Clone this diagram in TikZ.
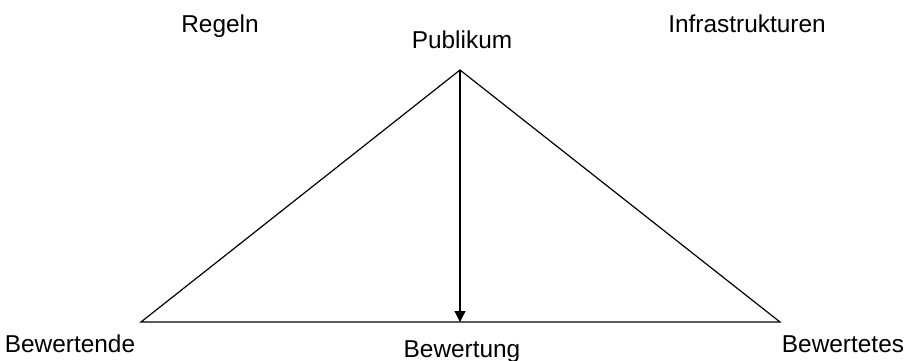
\documentclass[tikz,border=0pt]{standalone}
\usepackage{fontspec}
\setmainfont{Liberation Sans}
\usetikzlibrary{arrows.meta}
\tikzset{
  lbl/.style={anchor=base, inner sep=0pt, font=\fontsize{12.2}{14}\selectfont},
  edge/.style={line width=0.6pt},
}
\begin{document}
\begin{tikzpicture}[x=0.5pt,y=-0.5pt]
\useasboundingbox (0,0) rectangle (912,360);
% triangle corners
\coordinate (apex) at (460,70);
\coordinate (bl) at (141,322);
\coordinate (br) at (780,322);
\coordinate (mid) at (460,322);
% labels
\node[lbl] (regeln) at (220,32) {Regeln};
\node[lbl] (infra) at (747,32) {Infrastrukturen};
\node[lbl] (publikum) at (462,48) {Publikum};
\node[lbl] (bewertende) at (70,352) {Bewertende};
\node[lbl] (bewertung) at (462,357) {Bewertung};
\node[lbl] (bewertetes) at (843,352) {Bewertetes};
% triangle and evaluation arrow
\draw[edge, line join=miter] (bl) -- (apex) -- (br) -- cycle;
\draw[edge, -{Triangle[length=5.5pt,width=5.5pt]}] (apex) -- (mid);
\end{tikzpicture}
\end{document}
